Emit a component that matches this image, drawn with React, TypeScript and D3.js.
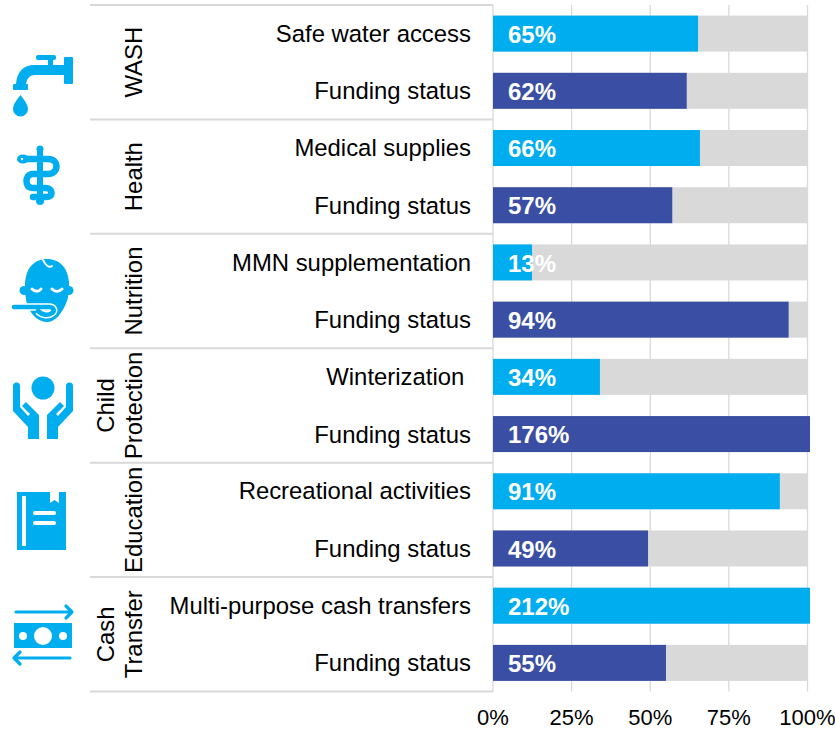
import React from "react";
import * as d3 from "d3";

const groups: string[][] = [["WASH"], ["Health"], ["Nutrition"], ["Child", "Protection"], ["Education"], ["Cash", "Transfer"]];
const activities = ["Safe water access", "Medical supplies", "MMN supplementation", "Winterization ", "Recreational activities", "Multi-purpose cash transfers"];
const fundingLabel = "Funding status";
const activityValues = [65, 66, 13, 34, 91, 212];
const fundingValues = [62, 57, 94, 176, 49, 55];
// bar lengths (labels are rounded)
const activityBars = [65.2, 65.8, 12.4, 34, 91.2, 212];
const fundingBars = [61.6, 57, 94, 176, 49.3, 55];
const ticks = [0, 25, 50, 75, 100];

const W = 835, H = 730;
const CYAN = "#00aeef", NAVY = "#3a4fa3", GRAY = "#d9d9d9", LINE = "#d9d9d9";
const FONT = "'Liberation Sans', Arial, sans-serif";

const x = d3.scaleLinear().domain([0, 100]).range([493, 807.5]);
const y = d3.scaleLinear().domain([0, 12]).range([5, 691.5]);
const maxShown = 100.8;
const barH = 36;
const barLabelSize = 24;
const catSize = 23.9;
const tickSize = 22;
const groupLine = 27.5;

const snake = "M22 159H48C54 159 56.500 163 56.500 166C56.500 171 53 174 48 174H33C28 174 26.500 178 26.500 181C26.500 186 29 188 33 188H46C50 188 51.500 191 51.500 193C51.500 196 49 197 46 197H33";
const tongue = "M14 307H49C54 307 55 311 52 313C48 316 42 315 38 311";

function Icons() {
  return (
    <g fill={CYAN} stroke="none">
      {/* tap */}
      <rect x={64} y={57} width={9} height={27} rx={1} />
      <rect x={36} y={55} width={20} height={5} rx={2} />
      <rect x={48} y={58} width={5} height={9} />
      <path d="M65 65H35C23 65 17 72 16 84H26C27 78 30 75 35 75H65Z" />
      <rect x={13} y={84} width={15} height={6} rx={1} />
      <path d="M20.5 95C24 100 28 104 28 109A7.5 7.5 0 0 1 13 109C13 104 17 100 20.5 95Z" />
      {/* staff & snake */}
      <circle cx={40} cy={149} r={3.5} />
      <rect x={37} y={150} width={6} height={53} />
      <circle cx={40} cy={201} r={4} />
      <path d={snake} fill="none" stroke={CYAN} strokeWidth={6.5} strokeLinecap="round" />
      <ellipse cx={23} cy={159} rx={6} ry={4.5} />
      <circle cx={22} cy={159} r={1.2} fill="#fff" />
      {/* baby */}
      <path d="M47 259C60 259 68 268 69 283C69 287 69 295 67 301C62 314 55 322 47 322C38 322 30 314 27 304C25 296 25 288 25 283C26 268 34 259 47 259Z" />
      <circle cx={24} cy={290.5} r={4.5} />
      <circle cx={69} cy={290.5} r={4.5} />
      <path d="M43 260C46 266 49 268 52 266" fill="none" stroke="#fff" strokeWidth={1.8} strokeLinecap="round" />
      <path d="M32 289C35 292 39 292 41 289M52 289C55 292 59 292 62 289" fill="none" stroke="#fff" strokeWidth={3} strokeLinecap="round" />
      <path d={tongue} fill="none" stroke="#fff" strokeWidth={7.5} />
      <path d={tongue} fill="none" stroke={CYAN} strokeWidth={4.6} strokeLinecap="round" />
      {/* hands */}
      <circle cx={43} cy={388} r={11.5} />
      {[0, 1].map((m) => (
        <path key={m} transform={m ? "translate(86,0) scale(-1,1)" : undefined}
          d="M13 386A3.5 3.5 0 0 1 20 386V407L28 416L30 414L22 406L26 402L39 415V439H28V427L13 411Z" />
      ))}
      {/* book */}
      <path d="M17 492H50V503L54.500 500L59 503V492H66V550H17Z" />
      <rect x={22} y={496} width={4} height={50} rx={1} fill="#fff" />
      <rect x={33} y={511} width={23} height={4} rx={2} fill="#fff" />
      <rect x={33} y={521} width={23} height={4} rx={2} fill="#fff" />
      {/* cash */}
      <rect x={14} y={623} width={58} height={25} />
      <circle cx={43} cy={636} r={9} fill="#fff" />
      <circle cx={23} cy={636} r={4} fill="#fff" />
      <circle cx={63} cy={636} r={4} fill="#fff" />
      <path d="M16 612H72M66 606L72 612L66 618" fill="none" stroke={CYAN} strokeWidth={3.2} strokeLinecap="round" strokeLinejoin="round" />
      <path d="M70 658H14M20 652L14 658L20 664" fill="none" stroke={CYAN} strokeWidth={3.2} strokeLinecap="round" strokeLinejoin="round" />
    </g>
  );
}

export default function App() {
  const rows = activities.flatMap((a, i) => [
    { label: a, value: activityValues[i], bar: activityBars[i], color: CYAN, row: i * 2 },
    { label: fundingLabel, value: fundingValues[i], bar: fundingBars[i], color: NAVY, row: i * 2 + 1 },
  ]);
  return (
    <svg width={W} height={H} viewBox={`0 0 ${W} ${H}`} style={{ position: "absolute", left: 0, top: 0 }} fontFamily={FONT}>
      <rect width={W} height={H} fill="#fff" />
      <Icons />
      {ticks.map((t) => (
        <line key={t} x1={x(t)} x2={x(t)} y1={y(0)} y2={y(12)} stroke={LINE} strokeWidth={1.3} />
      ))}
      {d3.range(0, 13, 2).map((r) => (
        <line key={r} x1={90} x2={x(0)} y1={y(r)} y2={y(r)} stroke={LINE} strokeWidth={2} />
      ))}
      {groups.map((lines, i) => {
        const cy = y(i * 2 + 1);
        return (
          <g key={i} transform={`translate(133,${cy}) rotate(-90)`}>
            {lines.map((l, j) => (
              <text key={l} x={0} y={(j - (lines.length - 1)) * groupLine} dy="0.36em" textAnchor="middle" fontSize={catSize} fill="#000">{l}</text>
            ))}
          </g>
        );
      })}
      {rows.map((r) => {
        const cy = y(r.row + 0.5);
        const top = cy - barH / 2;
        return (
          <g key={r.row}>
            <text x={471} y={cy - 0.5 + (r.row % 2 ? 0.5 : 0)} dy="0.36em" textAnchor="end" fontSize={catSize} fill="#000" style={{ whiteSpace: "pre" }}>{r.label}</text>
            <rect x={x(0)} y={top} width={x(100) - x(0)} height={barH} fill={GRAY} />
            <rect x={x(0)} y={top} width={x(Math.min(r.bar, maxShown)) - x(0)} height={barH} fill={r.color} />
            <text x={508} y={cy + 0.5} dy="0.36em" fontSize={barLabelSize} fontWeight="bold" fill="#fff">{r.value}%</text>
          </g>
        );
      })}
      {ticks.map((t) => (
        <text key={t} x={x(t)} y={717} dy="0.36em" textAnchor="middle" fontSize={tickSize} fill="#000">{t}%</text>
      ))}
    </svg>
  );
}
